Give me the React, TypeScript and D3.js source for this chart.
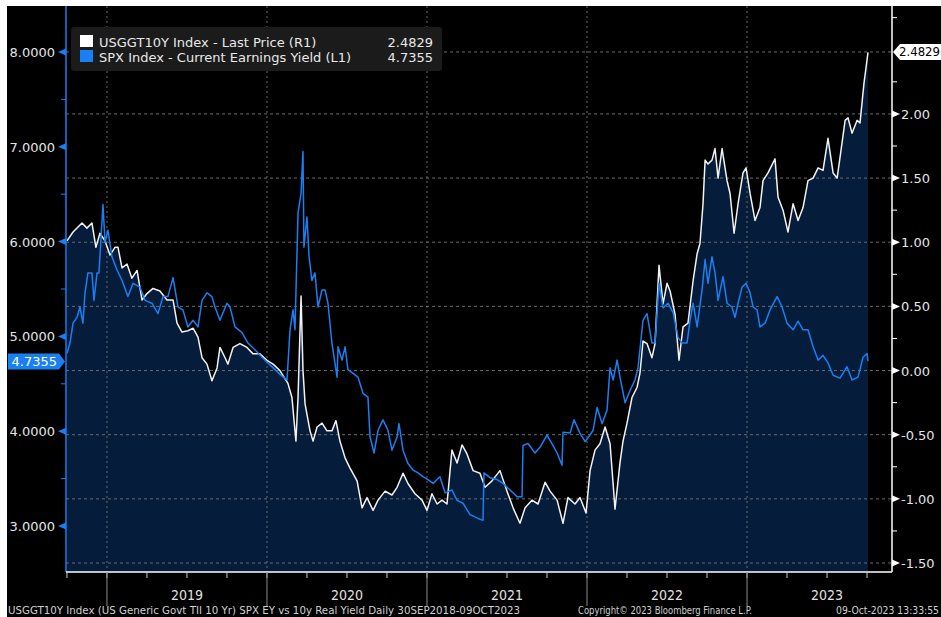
import React from 'react';
import * as d3 from 'd3';

// US 10y real yield (USGGT10Y, right axis) - [year fraction, value]
const realYield: [number, number][] = [
  [2018.750, 1.01], [2018.788, 1.08], [2018.844, 1.15], [2018.875, 1.11], [2018.906, 1.15], [2018.931, 0.96],
  [2018.956, 1.07], [2018.988, 1.01], [2019.019, 0.90], [2019.050, 0.96], [2019.069, 0.96], [2019.094, 0.80],
  [2019.125, 0.83], [2019.156, 0.72], [2019.188, 0.78], [2019.219, 0.55], [2019.250, 0.60], [2019.288, 0.64],
  [2019.331, 0.62], [2019.375, 0.55], [2019.413, 0.55], [2019.438, 0.37], [2019.469, 0.30], [2019.506, 0.31],
  [2019.538, 0.33], [2019.569, 0.26], [2019.594, 0.10], [2019.625, 0.05], [2019.656, -0.08], [2019.688, 0.02],
  [2019.706, 0.18], [2019.738, 0.10], [2019.756, 0.05], [2019.788, 0.18], [2019.831, 0.21], [2019.875, 0.18],
  [2019.913, 0.13], [2019.956, 0.13], [2020.000, 0.08], [2020.038, 0.05], [2020.081, 0.00], [2020.131, -0.10],
  [2020.156, -0.21], [2020.181, -0.55], [2020.194, -0.21], [2020.213, 0.58], [2020.225, 0.00], [2020.238, -0.26],
  [2020.269, -0.47], [2020.288, -0.55], [2020.313, -0.44], [2020.344, -0.41], [2020.375, -0.47], [2020.406, -0.47],
  [2020.431, -0.39], [2020.456, -0.55], [2020.488, -0.68], [2020.519, -0.76], [2020.563, -0.86], [2020.594, -1.07],
  [2020.625, -0.99], [2020.663, -1.09], [2020.694, -1.01], [2020.738, -0.94], [2020.781, -0.97], [2020.813, -0.91],
  [2020.850, -0.80], [2020.881, -0.88], [2020.925, -0.96], [2020.969, -1.01], [2021.000, -1.09], [2021.031, -0.96],
  [2021.063, -1.04], [2021.094, -1.01], [2021.125, -1.04], [2021.156, -0.62], [2021.188, -0.72], [2021.219, -0.58],
  [2021.250, -0.65], [2021.288, -0.78], [2021.331, -0.80], [2021.363, -0.91], [2021.406, -0.86], [2021.456, -0.78],
  [2021.500, -0.94], [2021.538, -1.07], [2021.581, -1.19], [2021.613, -1.07], [2021.656, -1.01], [2021.694, -1.04],
  [2021.738, -0.87], [2021.769, -0.94], [2021.813, -1.01], [2021.850, -1.19], [2021.881, -0.99], [2021.925, -1.04],
  [2021.956, -0.99], [2021.994, -1.11], [2022.019, -0.78], [2022.050, -0.62], [2022.081, -0.57], [2022.113, -0.44],
  [2022.144, -0.57], [2022.163, -0.88], [2022.175, -1.08], [2022.206, -0.72], [2022.225, -0.55], [2022.250, -0.41],
  [2022.281, -0.21], [2022.313, -0.13], [2022.331, -0.02], [2022.350, 0.23], [2022.375, 0.21], [2022.406, 0.10],
  [2022.425, 0.21], [2022.450, 0.82], [2022.475, 0.52], [2022.500, 0.68], [2022.519, 0.62], [2022.550, 0.44],
  [2022.575, 0.08], [2022.600, 0.34], [2022.631, 0.37], [2022.663, 0.70], [2022.688, 0.91], [2022.706, 0.99],
  [2022.725, 1.30], [2022.738, 1.64], [2022.756, 1.61], [2022.781, 1.64], [2022.800, 1.73], [2022.819, 1.50],
  [2022.844, 1.73], [2022.875, 1.48], [2022.894, 1.38], [2022.919, 1.07], [2022.944, 1.30], [2022.975, 1.54],
  [2022.994, 1.58], [2023.019, 1.38], [2023.050, 1.17], [2023.081, 1.27], [2023.100, 1.48], [2023.131, 1.54],
  [2023.175, 1.65], [2023.194, 1.35], [2023.225, 1.25], [2023.256, 1.08], [2023.288, 1.30], [2023.319, 1.17],
  [2023.350, 1.27], [2023.381, 1.48], [2023.413, 1.50], [2023.444, 1.58], [2023.475, 1.56], [2023.506, 1.81],
  [2023.538, 1.54], [2023.563, 1.50], [2023.581, 1.66], [2023.613, 1.95], [2023.631, 1.97], [2023.656, 1.85],
  [2023.688, 1.95], [2023.706, 1.93], [2023.731, 2.24], [2023.750, 2.42], [2023.756, 2.48],
];

// SPX current earnings yield (left axis)
const earningsYield: [number, number][] = [
  [2018.750, 4.82], [2018.769, 4.93], [2018.788, 5.14], [2018.813, 5.20], [2018.831, 5.31], [2018.850, 5.14],
  [2018.863, 5.46], [2018.881, 5.67], [2018.906, 5.67], [2018.919, 5.38], [2018.938, 5.67], [2018.950, 5.67],
  [2018.975, 6.39], [2018.988, 5.99], [2019.006, 6.12], [2019.031, 5.84], [2019.063, 5.70], [2019.094, 5.59],
  [2019.131, 5.42], [2019.163, 5.56], [2019.206, 5.52], [2019.238, 5.38], [2019.281, 5.35], [2019.319, 5.24],
  [2019.350, 5.42], [2019.381, 5.42], [2019.413, 5.62], [2019.444, 5.31], [2019.475, 5.28], [2019.506, 5.10],
  [2019.538, 5.17], [2019.569, 5.10], [2019.594, 5.38], [2019.625, 5.46], [2019.656, 5.42], [2019.675, 5.31],
  [2019.706, 5.17], [2019.750, 5.35], [2019.769, 5.31], [2019.800, 5.10], [2019.844, 5.04], [2019.881, 4.93],
  [2019.925, 4.86], [2019.969, 4.78], [2020.006, 4.72], [2020.050, 4.65], [2020.081, 4.60], [2020.125, 4.54],
  [2020.144, 5.07], [2020.163, 5.28], [2020.175, 5.07], [2020.194, 6.30], [2020.213, 6.51], [2020.225, 6.95],
  [2020.231, 5.94], [2020.250, 6.26], [2020.263, 5.84], [2020.281, 5.59], [2020.300, 5.67], [2020.319, 5.31],
  [2020.344, 5.49], [2020.363, 5.49], [2020.381, 5.35], [2020.406, 4.93], [2020.438, 4.57], [2020.444, 4.89],
  [2020.469, 4.75], [2020.488, 4.89], [2020.506, 4.65], [2020.538, 4.61], [2020.569, 4.57], [2020.600, 4.40],
  [2020.631, 4.36], [2020.644, 3.94], [2020.669, 3.77], [2020.694, 4.01], [2020.725, 4.12], [2020.756, 4.01],
  [2020.781, 3.80], [2020.813, 3.94], [2020.825, 4.08], [2020.850, 3.80], [2020.881, 3.66], [2020.913, 3.59],
  [2020.944, 3.56], [2020.975, 3.52], [2021.006, 3.49], [2021.038, 3.45], [2021.081, 3.52], [2021.113, 3.35],
  [2021.156, 3.38], [2021.188, 3.27], [2021.225, 3.24], [2021.269, 3.12], [2021.319, 3.08], [2021.350, 3.06],
  [2021.356, 3.56], [2021.394, 3.51], [2021.438, 3.49], [2021.475, 3.45], [2021.519, 3.38], [2021.563, 3.31],
  [2021.594, 3.31], [2021.600, 3.85], [2021.631, 3.87], [2021.675, 3.77], [2021.706, 3.83], [2021.750, 3.96],
  [2021.781, 3.87], [2021.813, 3.77], [2021.844, 3.64], [2021.850, 3.99], [2021.894, 3.98], [2021.919, 4.12],
  [2021.956, 3.98], [2021.988, 3.89], [2022.019, 3.96], [2022.038, 4.01], [2022.063, 4.25], [2022.094, 4.08],
  [2022.125, 4.22], [2022.144, 4.67], [2022.163, 4.54], [2022.188, 4.75], [2022.206, 4.57], [2022.238, 4.30],
  [2022.269, 4.43], [2022.300, 4.54], [2022.319, 4.67], [2022.350, 5.17], [2022.375, 5.24], [2022.406, 4.93],
  [2022.425, 4.93], [2022.450, 5.56], [2022.475, 5.30], [2022.506, 5.35], [2022.538, 5.25], [2022.569, 4.99],
  [2022.594, 4.93], [2022.625, 4.93], [2022.644, 5.17], [2022.663, 5.35], [2022.688, 5.10], [2022.719, 5.49],
  [2022.738, 5.81], [2022.756, 5.56], [2022.781, 5.84], [2022.800, 5.67], [2022.819, 5.38], [2022.850, 5.63],
  [2022.875, 5.35], [2022.906, 5.31], [2022.925, 5.20], [2022.944, 5.35], [2022.969, 5.52], [2022.994, 5.56],
  [2023.019, 5.46], [2023.038, 5.31], [2023.063, 5.28], [2023.081, 5.10], [2023.113, 5.14], [2023.144, 5.28],
  [2023.188, 5.42], [2023.219, 5.31], [2023.250, 5.14], [2023.288, 5.07], [2023.319, 5.16], [2023.350, 5.07],
  [2023.381, 5.07], [2023.413, 4.89], [2023.444, 4.75], [2023.475, 4.80], [2023.506, 4.72], [2023.538, 4.59],
  [2023.581, 4.56], [2023.625, 4.68], [2023.656, 4.54], [2023.694, 4.57], [2023.725, 4.78], [2023.750, 4.82],
  [2023.756, 4.74],
];

const leftTicks = [3, 4, 5, 6, 7, 8];
const leftMinor = [3.5, 4.5, 5.5, 6.5, 7.5];
const rightTicks = [-1.5, -1, -0.5, 0, 0.5, 1, 1.5, 2];
const rightMinor = [-1.25, -0.75, -0.25, 0.25, 0.75, 1.25, 1.75, 2.25, 2.75];
const years = [2019, 2020, 2021, 2022, 2023];
const quarters = d3.range(2018.75, 2023.9, 0.25);

const lastReal = 2.4829;
const lastEY = 4.7355;
const legendRows = [
  { label: 'USGGT10Y Index - Last Price (R1)', value: '2.4829', color: '#ffffff' },
  { label: 'SPX Index - Current Earnings Yield (L1)', value: '4.7355', color: '#1a7ff2' },
];

const W = 941;
const H = 617;
const plot = { left: 66, right: 892, top: 6, bottom: 572 };
const FONT = "'DejaVu Sans', sans-serif";
const NARROW = "'DejaVu Sans Condensed', 'DejaVu Sans', sans-serif";
const BLUE = '#1a7ff2';

export default function App() {
  const x = d3.scaleLinear().domain([2018.744, 2023.906]).range([plot.left, plot.right]);
  const yL = d3.scaleLinear().domain([2.515, 8.485]).range([plot.bottom, plot.top]);
  const yR = d3.scaleLinear().domain([-1.57, 2.841]).range([plot.bottom, plot.top]);

  const realLine = d3.line<[number, number]>().x(d => x(d[0])).y(d => yR(d[1]));
  const realArea = d3.area<[number, number]>().x(d => x(d[0])).y0(plot.bottom).y1(d => yR(d[1]));
  const eyLine = d3.line<[number, number]>().x(d => x(d[0])).y(d => yL(d[1]));

  const yLast = yR(lastReal);
  const yEY = yL(lastEY);

  return (
    <svg width={W} height={H} style={{ position: 'absolute', left: 0, top: 0 }}>
      <rect x={0} y={0} width={W} height={H} fill="#ffffff" />
      <rect x={7} y={6} width={W - 7} height={H - 6} fill="#000000" />

      <path d={realArea(realYield) || ''} fill="#051d3b" />

      {/* grid */}
      {rightTicks.map(t => (
        <line key={'gh' + t} x1={plot.left} x2={plot.right} y1={yR(t)} y2={yR(t)}
          stroke="#6a6a6a" strokeWidth={1} strokeDasharray="3,3" />
      ))}
      <line x1={plot.left} x2={plot.right} y1={yLast} y2={yLast} stroke="#6a6a6a" strokeDasharray="3,3" />
      {years.map(yr => (
        <line key={'gv' + yr} x1={x(yr)} x2={x(yr)} y1={plot.top} y2={plot.bottom}
          stroke="#6a6a6a" strokeWidth={1} strokeDasharray="2,3" />
      ))}

      <path d={realLine(realYield) || ''} fill="none" stroke="#f2f2f2" strokeWidth={1.5} strokeLinejoin="round" />
      <path d={eyLine(earningsYield) || ''} fill="none" stroke={BLUE} strokeWidth={1.5} strokeLinejoin="round" />

      {/* left axis */}
      <line x1={plot.left} x2={plot.left} y1={plot.top} y2={plot.bottom} stroke={BLUE} strokeWidth={1.5} />
      {leftMinor.map(t => (
        <line key={'lm' + t} x1={plot.left - 5} x2={plot.left} y1={yL(t)} y2={yL(t)} stroke={BLUE} />
      ))}
      {leftTicks.map(t => (
        <g key={'lt' + t}>
          <path d={`M${plot.left},${yL(t) - 3.5}L${plot.left - 8},${yL(t)}L${plot.left},${yL(t) + 3.5}Z`} fill={BLUE} />
          <text x={55} y={yL(t) + 5} textAnchor="end" fontFamily={FONT} fontSize={13} fill="#e4e4e4">
            {t.toFixed(4)}
          </text>
        </g>
      ))}
      <path d={`M8,${yEY - 8}L59,${yEY - 8}L65,${yEY}L59,${yEY + 8}L8,${yEY + 8}Z`} fill={BLUE} />
      <text x={57} y={yEY + 5} textAnchor="end" fontFamily={FONT} fontSize={13} fill="#ffffff">
        {lastEY.toFixed(4)}
      </text>

      {/* right axis */}
      <line x1={plot.right} x2={plot.right} y1={plot.top} y2={plot.bottom} stroke="#ffffff" strokeWidth={1.5} />
      {rightMinor.map(t => (
        <line key={'rm' + t} x1={plot.right} x2={plot.right + 5} y1={yR(t)} y2={yR(t)} stroke="#ffffff" />
      ))}
      {rightTicks.map(t => (
        <g key={'rt' + t}>
          <path d={`M${plot.right},${yR(t) - 3.5}L${plot.right + 8},${yR(t)}L${plot.right},${yR(t) + 3.5}Z`} fill="#ffffff" />
          <text x={901} y={yR(t) + 5} fontFamily={FONT} fontSize={13} fill="#e4e4e4">
            {t.toFixed(2)}
          </text>
        </g>
      ))}
      <path d={`M${plot.right + 1},${yLast}L${plot.right + 8},${yLast - 8}L${W},${yLast - 8}L${W},${yLast + 8}L${plot.right + 8},${yLast + 8}Z`} fill="#ffffff" />
      <text x={899} y={yLast + 4.5} fontFamily={FONT} fontSize={12} fill="#000000" textLength={41} lengthAdjust="spacingAndGlyphs">
        {lastReal.toFixed(4)}
      </text>

      {/* bottom axis */}
      <line x1={plot.left} x2={plot.right} y1={plot.bottom} y2={plot.bottom} stroke="#ffffff" strokeWidth={1.5} />
      {quarters.map(q => (
        <line key={'q' + q} x1={x(q)} x2={x(q)} y1={plot.bottom} y2={plot.bottom + 6} stroke="#cccccc" />
      ))}
      {years.map(yr => (
        <g key={'yr' + yr}>
          <line x1={x(yr)} x2={x(yr)} y1={plot.bottom} y2={606} stroke="#8a8a8a" />
          <text x={x(yr + 0.5)} y={600} textAnchor="middle" fontFamily={NARROW} fontSize={14} fill="#e0e0e0">
            {yr}
          </text>
        </g>
      ))}

      {/* legend */}
      <rect x={71} y={27} width={371} height={44} rx={3} fill="#1b1b1b" />
      {legendRows.map((r, i) => (
        <g key={r.label}>
          <rect x={80} y={35 + i * 15} width={13} height={12} fill={r.color} />
          <text x={99} y={47 + i * 15} fontFamily={FONT} fontSize={13} fill="#e8e8e8">{r.label}</text>
          <text x={433} y={47 + i * 15} textAnchor="end" fontFamily={FONT} fontSize={13} fill="#e8e8e8">{r.value}</text>
        </g>
      ))}

      {/* footer */}
      <text x={8} y={614} fontFamily={NARROW} fontSize={10} fill="#cfcfcf" textLength={512} lengthAdjust="spacingAndGlyphs">
        USGGT10Y Index (US Generic Govt TII 10 Yr) SPX EY vs 10y Real Yield  Daily 30SEP2018-09OCT2023
      </text>
      <text x={578} y={614} fontFamily={NARROW} fontSize={10} fill="#cfcfcf" textLength={174} lengthAdjust="spacingAndGlyphs">
        Copyright© 2023 Bloomberg Finance L.P.
      </text>
      <text x={836} y={614} fontFamily={NARROW} fontSize={10} fill="#cfcfcf" textLength={103} lengthAdjust="spacingAndGlyphs">
        09-Oct-2023 13:33:55
      </text>
    </svg>
  );
}
